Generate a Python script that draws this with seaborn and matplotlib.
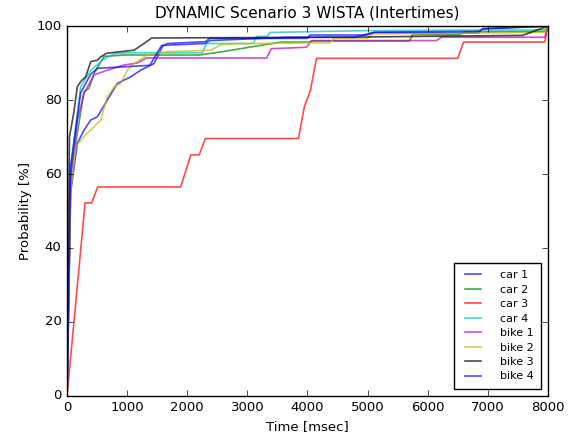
import matplotlib
matplotlib.use('Agg')
import matplotlib.pyplot as plt
import seaborn as sns

# intertime CDF samples: time [msec] / probability [%]
car1_t = [0, 60, 171, 283, 394, 505, 670, 837, 948, 1059, 1226, 1447, 1530, 1585, 1668, 2300, 2378, 4000, 4041, 4984, 5100, 6850, 6920, 8000]
car1_p = [0, 55, 68.3, 71.9, 74.6, 75.5, 80, 84.5, 85.4, 86.3, 88.1, 89.9, 92.6, 94.5, 95.3, 95.8, 96.7, 96.7, 97.6, 97.6, 98.2, 98.2, 99.3, 100]

car2_t = [0, 60, 283, 366, 449, 615, 948, 1164, 2200, 2545, 3560, 4008, 4100, 5700, 5750, 6530, 6600, 7950, 8000]
car2_p = [0, 60, 82.3, 83.2, 87.2, 91.8, 92.2, 92.2, 92.2, 93.0, 95.7, 95.7, 96.0, 96.0, 97.7, 97.7, 98.4, 98.6, 100]

car3_t = [0, 300, 410, 510, 1890, 2060, 2200, 2300, 3850, 3950, 4050, 4150, 6500, 6600, 7950, 8000]
car3_p = [0, 52.2, 52.2, 56.5, 56.5, 65.2, 65.2, 69.6, 69.6, 78.3, 82.6, 91.3, 91.3, 95.7, 95.7, 100]

car4_t = [0, 60, 227, 394, 600, 782, 1000, 2250, 2323, 3100, 3155, 3330, 3376, 5000, 7950, 8000]
car4_p = [0, 62, 83.6, 88, 91, 92.5, 92.8, 92.8, 95.3, 95.3, 97.2, 97.2, 98.3, 98.8, 99.0, 100]

bike1_t = [0, 60, 171, 283, 449, 670, 948, 1164, 1325, 3321, 3400, 3986, 4069, 4790, 5705, 6148, 6231, 7950, 8000]
bike1_p = [0, 58, 74.6, 81.8, 86.8, 88.1, 89.5, 90, 91.4, 91.4, 93.9, 94.3, 96.1, 96.1, 96.1, 96.1, 97.0, 97.0, 100]

bike2_t = [0, 60, 144, 283, 449, 560, 670, 782, 893, 1003, 1114, 1336, 1668, 2400, 2545, 2822, 4374, 4450, 5000, 5094, 7950, 8000]
bike2_p = [0, 55, 67.4, 70.1, 72.8, 74.6, 80.9, 83.6, 84.5, 88.1, 89.9, 92.2, 93.1, 93.5, 94.9, 95.3, 95.5, 96.7, 96.7, 97.9, 98.3, 100]

bike3_t = [0, 40, 116, 171, 227, 310, 394, 505, 560, 665, 1115, 1280, 1408, 4500, 7580, 7780, 8000]
bike3_p = [0, 70, 77, 83.6, 85, 86.3, 90.4, 90.8, 91.7, 92.7, 93.5, 95.3, 96.8, 97.0, 97.5, 98.7, 100]

bike4_t = [0, 60, 227, 394, 505, 1376, 1575, 2295, 2378, 3675, 4790, 5122, 6850, 6920, 8000]
bike4_p = [0, 62, 82, 87, 88.6, 89.4, 94.8, 95.3, 96.1, 97.0, 97.0, 98.4, 98.6, 99.3, 100]

labels = ['car 1', 'car 2', 'car 3', 'car 4', 'bike 1', 'bike 2', 'bike 3', 'bike 4']
colors = ['b', 'g', 'r', 'c', 'm', 'y', 'k', 'b']
series = [(car1_t, car1_p), (car2_t, car2_p), (car3_t, car3_p), (car4_t, car4_p),
          (bike1_t, bike1_p), (bike2_t, bike2_p), (bike3_t, bike3_p), (bike4_t, bike4_p)]

plt.style.use('classic')
fig = plt.figure(figsize=(5.73, 4.36), dpi=100, facecolor='white')
ax = fig.add_axes([0.117, 0.092, 0.839, 0.848])

for (t, p), lab, col in zip(series, labels, colors):
    sns.lineplot(x=t, y=p, ax=ax, color=col, alpha=0.7, linewidth=1.2,
                 label=lab, estimator=None, sort=False)

ax.set_xlim(0, 8000)
ax.set_ylim(0, 100)
ax.set_xticks(range(0, 8001, 1000))
ax.set_yticks(range(0, 101, 20))
ax.tick_params(labelsize=9.5, pad=4)
ax.set_title('DYNAMIC Scenario 3 WISTA (Intertimes)', fontsize=11, y=1.005)
ax.set_xlabel('Time [msec]', fontsize=9.5, labelpad=4)
ax.set_ylabel('Probability [%]', fontsize=9.5, labelpad=3)
ax.legend(loc='lower right', fontsize=8, handlelength=2.0, handletextpad=1.4,
          labelspacing=0.4, borderpad=0.7, borderaxespad=0.6)

fig.savefig('out.png', dpi=100, facecolor='white')
